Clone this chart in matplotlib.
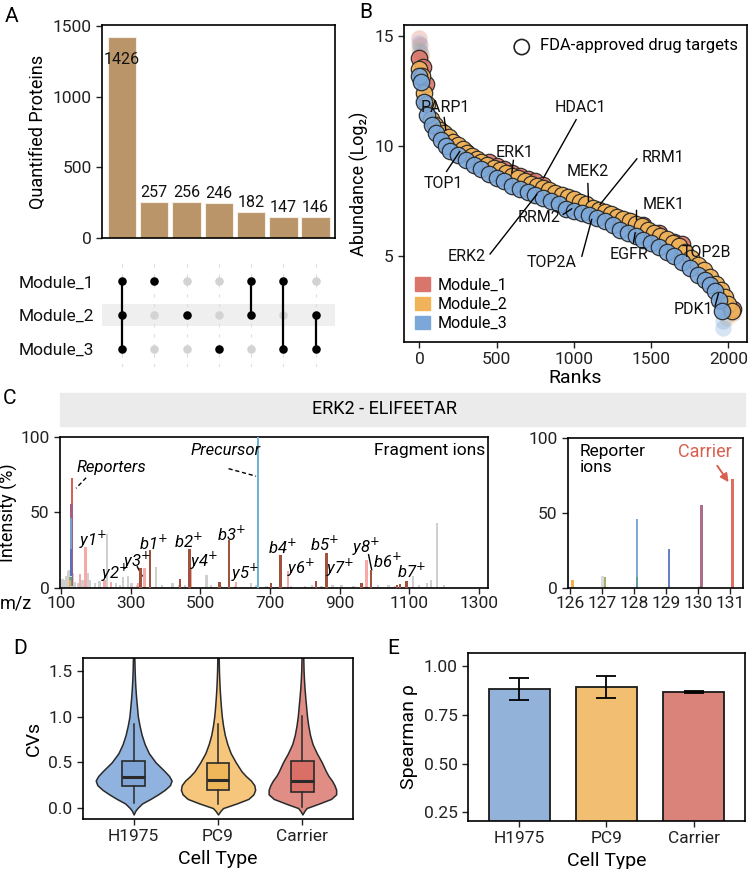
import matplotlib
matplotlib.use('Agg')
import matplotlib.pyplot as plt
import numpy as np
from matplotlib.patches import Patch, Rectangle

plt.rcParams['font.family'] = ['Roboto', 'DejaVu Sans']
plt.rcParams['axes.linewidth'] = 1.2
plt.rcParams['xtick.major.width'] = 1.0
plt.rcParams['ytick.major.width'] = 1.0
plt.rcParams['xtick.major.size'] = 4
plt.rcParams['ytick.major.size'] = 4
plt.rcParams['xtick.labelsize'] = 12.5
plt.rcParams['ytick.labelsize'] = 12.5
plt.rcParams['xtick.color'] = '#222222'
plt.rcParams['ytick.color'] = '#222222'

# ---------------- data ----------------
# A: upset
upset_counts = [1426, 257, 256, 246, 182, 147, 146]
module_names = ['Module_1', 'Module_2', 'Module_3']
membership = [[1, 1, 1], [1, 0, 0], [0, 1, 0], [0, 0, 1], [1, 1, 0], [1, 0, 1], [0, 1, 1]]

# B: abundance vs rank (FDA-approved targets, black edge)
ranks1 = [0, 20, 40, 300, 450, 500, 550, 600, 650, 700, 750, 800, 1150, 1260, 1350, 1450, 1550, 1650, 1700, 2030]
abund1 = [14.0, 13.6, 12.8, 9.75, 9.3, 9.1, 8.95, 8.8, 8.65, 8.5, 8.4, 8.25, 7.1, 6.82, 6.6, 6.4, 6.05, 5.65, 5.55, 2.6]
ranks2 = [0, 15, 30, 50, 75, 100, 130, 160, 190, 220, 250, 280, 310, 340, 370, 400, 440, 480, 520, 560,
          600, 640, 680, 720, 760, 800, 840, 880, 920, 960, 1000, 1040, 1080, 1120, 1160, 1200, 1240, 1280,
          1320, 1360, 1400, 1440, 1480, 1520, 1560, 1600, 1640, 1680, 1720, 1760, 1800, 1840, 1880, 1920,
          1950, 1980, 2000, 2020]
abund2 = [13.5, 13.2, 12.4, 11.9, 11.25, 10.95, 10.75, 10.6, 10.4, 10.2, 10.05, 9.85, 9.7, 9.55, 9.42, 9.3,
          9.15, 9.0, 8.9, 8.8, 8.65, 8.55, 8.42, 8.3, 8.2, 8.1, 8.0, 7.88, 7.78, 7.68, 7.58, 7.45, 7.35, 7.2,
          7.1, 7.0, 6.9, 6.8, 6.7, 6.6, 6.48, 6.35, 6.2, 6.05, 5.92, 5.78, 5.62, 5.45, 5.2, 4.9, 4.6, 4.35,
          4.05, 3.75, 3.45, 3.15, 2.85, 2.5]
ranks3 = [0, 10, 30, 50, 80, 110, 140, 170, 200, 250, 300, 350, 400, 450, 500, 550, 600, 650, 700, 750,
          800, 850, 900, 950, 1000, 1050, 1100, 1150, 1200, 1250, 1300, 1350, 1400, 1450, 1500, 1550, 1600,
          1650, 1700, 1750, 1800, 1850, 1880, 1910, 1940, 1960]
abund3 = [13.2, 12.9, 12.0, 11.4, 10.95, 10.6, 10.3, 10.0, 9.77, 9.6, 9.35, 9.15, 8.95, 8.75, 8.55, 8.4,
          8.2, 8.05, 7.9, 7.8, 7.65, 7.5, 7.35, 7.15, 7.05, 6.95, 6.85, 6.75, 6.6, 6.4, 6.2, 6.05, 5.9, 5.75,
          5.6, 5.4, 5.2, 5.0, 4.75, 4.45, 4.15, 3.9, 3.7, 3.4, 3.0, 2.5]
# B: other proteins (faint)
faint_ranks1 = [0, 5, 12, 2030]
faint_abund1 = [14.9, 14.6, 14.2, 2.4]
faint_ranks2 = [0, 8, 15, 1990, 2010]
faint_abund2 = [14.4, 14.0, 13.7, 2.2, 2.6]
faint_ranks3 = [0, 6, 25, 60, 1500, 1700, 1720, 1965, 1965]
faint_abund3 = [14.7, 14.3, 12.1, 11.8, 6.2, 5.2, 5.0, 2.05, 1.75]
# B: labels (text, text rank, text abund, line start, line end)
target_labels = [
    ('PARP1', 166, 11.74, (160, 11.3), (170, 10.75)),
    ('TOP1', 155, 8.3, (175, 8.85), (260, 9.75)),
    ('ERK1', 615, 9.7, (608, 9.35), (598, 8.8)),
    ('HDAC1', 1040, 11.74, (1014, 11.2), (803, 8.56)),
    ('RRM2', 777, 6.74, (930, 6.9), (985, 7.15)),
    ('ERK2', 306, 5.0, (457, 5.1), (759, 7.8)),
    ('MEK2', 1087, 8.86, (1090, 8.3), (1094, 7.5)),
    ('RRM1', 1579, 9.47, (1407, 9.42), (1169, 7.35)),
    ('MEK1', 1579, 7.35, (1400, 7.1), (1400, 6.67)),
    ('TOP2A', 857, 4.7, (1051, 5.0), (1115, 6.67)),
    ('EGFR', 1353, 5.08, (1385, 5.6), (1396, 6.06)),
    ('TOP2B', 1860, 5.15, None, None),
    ('PDK1', 1774, 2.58, (1914, 2.75), (1935, 3.3)),
]

# C: spectrum
gray_mz = [104, 110, 116, 120, 124, 134, 140, 148, 162, 176, 182, 198, 210, 232, 258, 270, 278, 292, 302,
           318, 372, 390, 420, 440, 456, 518, 530, 560, 600, 645, 660, 690, 760, 800, 820, 848, 880, 905,
           940, 1010, 1040, 1060, 1110, 1128, 1150, 1162, 1180, 1200]
gray_int = [6, 5, 8, 11, 12, 10, 4, 3, 5, 10, 5, 3, 4.5, 36, 3, 2, 7, 8, 3, 2, 14, 2, 3, 2, 2, 8.5, 2, 1.5,
            1.5, 3, 2, 1.5, 1.5, 1.5, 2, 1.5, 2, 2, 1.5, 2, 2, 1.5, 8, 2, 3, 5.5, 43, 2]
b_mz = [328, 356, 441, 469, 555, 583, 703, 730, 832, 862, 963, 990, 1064, 1074, 1092]
b_int = [13, 25, 6, 25.5, 4, 32, 3, 22, 4.5, 23, 3, 12, 2, 2.5, 4.5]
y_mz = [155, 170, 225, 244, 322, 340, 473, 603, 751, 864, 977]
y_int = [9, 27, 5, 4, 3, 13, 12.7, 4, 11, 10, 18.5]
precursor_mz = [665]
precursor_int = [100]
rep_mz = [126.08, 127.02, 127.10, 128.10, 128.10, 129.09, 130.05, 130.10, 131.08]
rep_int = [5, 8, 7.3, 46, 7.3, 26, 1, 55.5, 72.5]
rep_colors = ['#F2A93B', '#D6D6D6', '#9EA35F', '#72A0D4', '#5E9C9A', '#5870C0', '#D6D6D6', '#A35F7D', '#D9604F']
ion_labels = [('y1', 191, 32), ('y2', 254, 10), ('y3', 319, 18), ('b1', 364, 30), ('b2', 467, 31),
              ('y4', 511, 18), ('b3', 590, 36), ('y5', 629, 10), ('b4', 735, 27), ('y6', 788, 13),
              ('b5', 855, 29), ('y7', 900, 13), ('y8', 975, 27), ('b6', 1037, 18), ('b7', 1105, 11)]

# D: CVs violins (shape) and box stats
cell_types = ['H1975', 'PC9', 'Carrier']
violin_y = [-0.07, -0.03, 0.0, 0.05, 0.1, 0.15, 0.2, 0.25, 0.3, 0.35, 0.4, 0.5, 0.6, 0.7, 0.8, 0.9, 1.0,
            1.1, 1.2, 1.3, 1.4, 1.5, 1.65]
violin_h1975 = [0, 0.02, 0.045, 0.10, 0.20, 0.29, 0.37, 0.43, 0.45, 0.42, 0.37, 0.26, 0.18, 0.13, 0.095,
                0.07, 0.05, 0.04, 0.03, 0.022, 0.016, 0.012, 0.008]
violin_pc9 = [0, 0.03, 0.06, 0.22, 0.36, 0.42, 0.44, 0.43, 0.39, 0.33, 0.28, 0.21, 0.15, 0.11, 0.08, 0.06,
              0.045, 0.035, 0.027, 0.02, 0.015, 0.011, 0.008]
violin_carrier = [0, 0.025, 0.05, 0.2, 0.34, 0.40, 0.40, 0.38, 0.35, 0.31, 0.28, 0.23, 0.17, 0.12, 0.09,
                  0.07, 0.055, 0.045, 0.035, 0.026, 0.019, 0.014, 0.01]
box_q1 = [0.24, 0.20, 0.17]
box_med = [0.34, 0.31, 0.30]
box_q3 = [0.51, 0.49, 0.51]
box_lo = [0.06, 0.04, 0.01]
box_hi = [0.92, 0.92, 1.01]

# E: Spearman rho
rho_mean = [0.882, 0.894, 0.868]
rho_err = [0.055, 0.056, 0.006]

c_mod1 = '#D9756B'
c_mod2 = '#F0B35A'
c_mod3 = '#7BA7D9'
bar_tan = '#BA9569'

fig = plt.figure(figsize=(7.5, 8.69), dpi=100)

# ---------------- A ----------------
axA = fig.add_axes([0.136, 0.7261, 0.3107, 0.2451])
xpos = np.arange(len(upset_counts))
axA.bar(xpos, upset_counts, width=0.88, color=bar_tan, edgecolor='#f4efe6', linewidth=0.8)
for i, v in enumerate(upset_counts):
    if v > 1000:
        axA.text(i, v - 160, str(v), ha='center', va='center', fontsize=11.5, color='#111111')
    else:
        axA.text(i, v + 15, str(v), ha='center', va='bottom', fontsize=11.5, color='#111111')
axA.set_xlim(-0.62, 6.6)
axA.set_ylim(0, 1510)
axA.set_xticks([])
axA.set_yticks([0, 500, 1000, 1500])
axA.set_ylabel('Quantified Proteins', fontsize=13)

axM = fig.add_axes([0.136, 0.5777, 0.3107, 0.1208])
axM.set_xlim(-0.62, 6.6)
axM.set_ylim(-0.55, 2.58)
axM.axhspan(0.67, 1.33, color='#efefef', zorder=0, lw=0)
row_y = [2, 1, 0]
for i, mem in enumerate(membership):
    axM.plot([i, i], [-0.55, 2.58], color='#dddddd', lw=0.8, ls=(0, (3, 6)), zorder=1)
    on = [row_y[k] for k in range(3) if mem[k]]
    off = [row_y[k] for k in range(3) if not mem[k]]
    axM.scatter([i] * len(off), off, s=38, color='#d3d3d3', zorder=2, lw=0)
    if len(on) > 1:
        axM.plot([i, i], [min(on), max(on)], color='black', lw=1.6, zorder=3)
    axM.scatter([i] * len(on), on, s=38, color='black', zorder=4, lw=0)
axM.set_yticks(row_y)
axM.set_yticklabels(module_names, fontsize=12.5, color='#111111')
axM.tick_params(axis='y', length=0, pad=6)
axM.set_xticks([])
for s in axM.spines.values():
    s.set_visible(False)

# ---------------- B ----------------
axB = fig.add_axes([0.5387, 0.6064, 0.4573, 0.3648])
msize = 140
axB.scatter(faint_ranks1, faint_abund1, s=msize, color=c_mod1, alpha=0.3, lw=0, zorder=1)
axB.scatter(faint_ranks2, faint_abund2, s=msize, color=c_mod2, alpha=0.3, lw=0, zorder=1)
axB.scatter(faint_ranks3, faint_abund3, s=msize, color=c_mod3, alpha=0.3, lw=0, zorder=1)
axB.scatter(ranks1, abund1, s=msize, color=c_mod1, edgecolor='#222222', lw=0.9, alpha=0.9, zorder=2)
axB.scatter(ranks2, abund2, s=msize, color=c_mod2, edgecolor='#222222', lw=0.9, alpha=0.9, zorder=3)
axB.scatter(ranks3, abund3, s=msize, color=c_mod3, edgecolor='#222222', lw=0.9, alpha=0.9, zorder=4)
for name, tx, ty, p0, p1 in target_labels:
    axB.text(tx, ty, name, ha='center', va='center', fontsize=11.5, color='#111111', zorder=6)
    if p0 is not None:
        axB.plot([p0[0], p1[0]], [p0[1], p1[1]], color='black', lw=1.0, zorder=5)
axB.scatter([662], [14.5], s=120, facecolor='none', edgecolor='#222222', lw=1.2)
axB.text(780, 14.58, 'FDA-approved drug targets', ha='left', va='center', fontsize=12)
axB.legend(handles=[Patch(color=c_mod1, label='Module_1'), Patch(color=c_mod2, label='Module_2'),
                    Patch(color=c_mod3, label='Module_3')],
           loc='lower left', frameon=False, fontsize=11.5, handlelength=0.9, handleheight=0.9,
           handletextpad=0.5, labelspacing=0.25, borderaxespad=0.3)
axB.set_xlim(-100, 2120)
axB.set_ylim(1.1, 15.5)
axB.set_xticks([0, 500, 1000, 1500, 2000])
axB.set_yticks([5, 10, 15])
axB.set_xlabel('Ranks', fontsize=14, labelpad=1)
axB.set_ylabel('Abundance (Log\u2082)', fontsize=13)

# ---------------- C ----------------
fig.patches.append(Rectangle((0.08, 0.5098), 0.9133, 0.038, transform=fig.transFigure,
                             color='#ebebeb', zorder=0))
fig.text(385 / 750, 1 - 409.5 / 869, 'ERK2 - ELIFEETAR', ha='center', va='center', fontsize=13)

axC1 = fig.add_axes([0.08, 0.3234, 0.5707, 0.1738])
axC1.bar(gray_mz, gray_int, width=7, color='#cfcfcf', lw=0, zorder=1)
axC1.bar(y_mz, y_int, width=7, color='#F7A9A8', lw=0, zorder=2)
axC1.bar(b_mz, b_int, width=7, color='#A0523D', lw=0, zorder=3)
axC1.bar(precursor_mz, precursor_int, width=7, color='#6BB6D6', lw=0, zorder=3)
order = np.argsort(rep_int)[::-1]
axC1.bar([rep_mz[k] for k in order], [rep_int[k] for k in order], width=7,
         color=[rep_colors[k] for k in order], lw=0, zorder=2)
for name, lx, ly in ion_labels:
    axC1.text(lx, ly, '%s$^{+}$' % name, ha='center', va='center', fontsize=12, style='italic', zorder=5)
axC1.plot([319, 333], [14, 8], color='black', lw=1.0)
axC1.plot([983, 992], [22, 12], color='black', lw=1.0)
axC1.text(244, 80, 'Reporters', ha='center', va='center', fontsize=12, style='italic')
axC1.plot([172, 143], [73, 66], color='black', lw=1.0, ls=(0, (3, 2)))
axC1.text(571, 91, 'Precursor', ha='center', va='center', fontsize=12, style='italic')
axC1.plot([581, 660], [79, 74], color='black', lw=1.0, ls=(0, (3, 2)))
axC1.text(1157, 91, 'Fragment ions', ha='center', va='center', fontsize=12.5)
axC1.set_xlim(97, 1326)
axC1.set_ylim(0, 100)
axC1.set_xticks([100, 300, 500, 700, 900, 1100, 1300])
axC1.set_yticks([0, 50, 100])
axC1.tick_params(axis='x', pad=2)
axC1.set_ylabel('Intensity (%)', fontsize=13, labelpad=2)
fig.text(16 / 750, 1 - 603 / 869, 'm/z', ha='center', va='center', fontsize=13)

axC2 = fig.add_axes([0.7573, 0.3234, 0.2333, 0.1726])
axC2.bar(rep_mz, rep_int, width=0.08, color=rep_colors, lw=0, alpha=0.9)
axC2.text(126.3, 96, 'Reporter\nions', ha='left', va='top', fontsize=12.5, linespacing=1.1)
axC2.text(130.2, 90.5, 'Carrier', ha='center', va='center', fontsize=13, color='#D9604F')
axC2.annotate('', xy=(131.0, 69), xytext=(130.55, 83),
              arrowprops=dict(arrowstyle='-|>', color='#D9604F', lw=1.4, mutation_scale=12))
axC2.set_xlim(125.94, 131.4)
axC2.set_ylim(0, 100)
axC2.set_xticks([126, 127, 128, 129, 130, 131])
axC2.set_yticks([0, 50, 100])
axC2.tick_params(axis='x', pad=2)

# ---------------- D ----------------
axD = fig.add_axes([0.1107, 0.0575, 0.36, 0.1853])
vio_cols = ['#8FB2DE', '#F6C67C', '#E08D86']
box_cols = ['#7FA5D6', '#F0B65A', '#D96F66']
widths = [violin_h1975, violin_pc9, violin_carrier]
for i in range(3):
    w = np.array(widths[i])
    axD.fill_betweenx(violin_y, i + 1 - w, i + 1 + w, facecolor=vio_cols[i], edgecolor='#2a2a2a',
                      lw=1.1, zorder=1)
stats = [dict(med=box_med[i], q1=box_q1[i], q3=box_q3[i], whislo=box_lo[i], whishi=box_hi[i], fliers=[])
         for i in range(3)]
bp = axD.bxp(stats, positions=[1, 2, 3], widths=0.27, patch_artist=True, showcaps=False,
             boxprops=dict(lw=1.2, edgecolor='#2a2a2a'), whiskerprops=dict(lw=1.1, color='#2a2a2a'),
             medianprops=dict(lw=2.2, color='#2a2a2a'), manage_ticks=False)
for patch, c in zip(bp['boxes'], box_cols):
    patch.set_facecolor(c)
    patch.set_zorder(2)
axD.set_xlim(0.4, 3.6)
axD.set_ylim(-0.12, 1.64)
axD.set_xticks([1, 2, 3])
axD.set_xticklabels(cell_types)
axD.set_yticks([0.0, 0.5, 1.0, 1.5])
axD.set_yticklabels(['0.0', '0.5', '1.0', '1.5'])
axD.set_ylabel('CVs', fontsize=14)
axD.set_xlabel('Cell Type', fontsize=14)

# ---------------- E ----------------
axE = fig.add_axes([0.624, 0.0552, 0.3693, 0.1933])
bar_cols = ['#93B2DA', '#F2BF72', '#D9837B']
axE.bar([1, 2, 3], rho_mean, width=0.70, color=bar_cols, edgecolor='#1a1a1a', lw=1.3)
axE.errorbar([1, 2, 3], rho_mean, yerr=rho_err, fmt='none', ecolor='black', elinewidth=1.3,
             capsize=7, capthick=1.3)
axE.set_xlim(0.41, 3.59)
axE.set_ylim(0.205, 1.067)
axE.set_xticks([1, 2, 3])
axE.set_xticklabels(cell_types)
axE.set_yticks([0.25, 0.5, 0.75, 1.0])
axE.set_yticklabels(['0.25', '0.50', '0.75', '1.00'])
axE.set_ylabel('Spearman \u03c1', fontsize=14)
axE.set_xlabel('Cell Type', fontsize=14)

# panel letters
for lab, x, y in [('A', 12, 16), ('B', 366, 13), ('C', 9, 398), ('D', 20, 648), ('E', 393, 648)]:
    fig.text(x / 750, 1 - y / 869, lab, ha='center', va='center', fontsize=15)

fig.savefig('out.png', dpi=100)
